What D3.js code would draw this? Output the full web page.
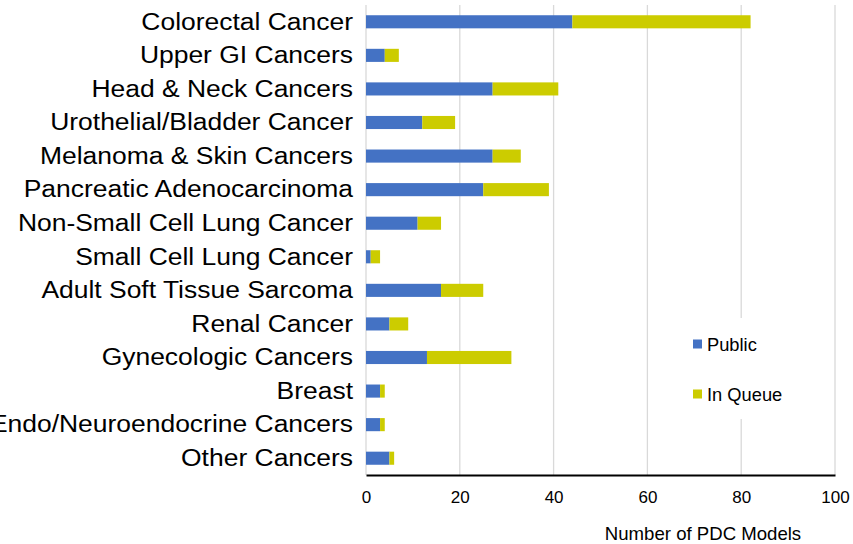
<!DOCTYPE html>
<html>
<head>
<meta charset="utf-8">
<script src="https://cdn.jsdelivr.net/npm/d3@7"></script>
<style>
  html, body { margin: 0; padding: 0; background: #fff; }
  svg { display: block; font-family: "Liberation Sans", Arial, sans-serif; }
</style>
</head>
<body>
<svg id="chart" width="853" height="544"></svg>
<script>
// PDC model counts by cancer type
const categories = [
  "Colorectal Cancer",
  "Upper GI Cancers",
  "Head & Neck Cancers",
  "Urothelial/Bladder Cancer",
  "Melanoma & Skin Cancers",
  "Pancreatic Adenocarcinoma",
  "Non-Small Cell Lung Cancer",
  "Small Cell Lung Cancer",
  "Adult Soft Tissue Sarcoma",
  "Renal Cancer",
  "Gynecologic Cancers",
  "Breast",
  "Endo/Neuroendocrine Cancers",
  "Other Cancers"
];
const publicModels = [44, 4, 27, 12, 27, 25, 11, 1, 16, 5, 13, 3, 3, 5];
const inQueueModels = [38, 3, 14, 7, 6, 14, 5, 2, 9, 4, 18, 1, 1, 1];
const seriesNames = ["Public", "In Queue"];
const seriesColors = ["#4472c4", "#cccc00"];
const xTicks = [0, 20, 40, 60, 80, 100];
const axisTitle = "Number of PDC Models";

const svg = d3.select("#chart");
const margin = { left: 366, right: 18, top: 5, bottom: 69 };
const width = 853, height = 544;

const x = d3.scaleLinear().domain([0, 100]).range([margin.left, width - margin.right]);
const y = d3.scaleBand().domain(categories)
  .range([margin.top, height - margin.bottom])
  .paddingInner(0.61).paddingOuter(0.305);

// vertical gridlines
svg.append("g").selectAll("line").data(xTicks).join("line")
  .attr("x1", d => x(d)).attr("x2", d => x(d))
  .attr("y1", margin.top).attr("y2", height - margin.bottom)
  .attr("stroke", "#d9d9d9").attr("stroke-width", 1.3);

// stacked bars
const rows = categories.map((c, i) => ({ cat: c, pub: publicModels[i], queue: inQueueModels[i] }));
const stack = d3.stack().keys(["pub", "queue"]);
const layers = stack(rows);
svg.append("g").selectAll("g").data(layers).join("g")
  .attr("fill", (d, i) => seriesColors[i])
  .selectAll("rect").data(d => d).join("rect")
  .attr("x", d => x(d[0]))
  .attr("width", d => x(d[1]) - x(d[0]))
  .attr("y", d => y(d.data.cat))
  .attr("height", y.bandwidth());

// category axis (labels slightly widened)
const labelStretch = 1.08;
const labelPad = 13;
const yAxis = svg.append("g")
  .attr("transform", `translate(${margin.left},0)`)
  .call(d3.axisLeft(y).tickSize(0).tickPadding(labelPad));
yAxis.select(".domain").remove();
yAxis.selectAll("text")
  .attr("font-size", 24.5).attr("fill", "#000")
  .attr("font-family", "'Liberation Sans', Arial, sans-serif")
  .attr("x", -labelPad / labelStretch)
  .attr("transform", `scale(${labelStretch},1)`);

// value axis
const xAxis = svg.append("g")
  .attr("transform", `translate(0,${height - margin.bottom})`)
  .call(d3.axisBottom(x).tickValues(xTicks).tickSize(0).tickPadding(16));
xAxis.select(".domain").attr("stroke", "#000").attr("stroke-width", 2);
xAxis.selectAll("text").attr("font-size", 17).attr("fill", "#000")
  .attr("font-family", "'Liberation Sans', Arial, sans-serif");

svg.append("text")
  .attr("x", 703).attr("y", 540)
  .attr("text-anchor", "middle")
  .attr("font-size", 18.6)
  .attr("fill", "#000")
  .text(axisTitle);

// legend
const legend = svg.append("g");
legend.append("rect").attr("x", 684).attr("y", 318).attr("width", 115).attr("height", 101).attr("fill", "#fff");
seriesNames.forEach((name, i) => {
  const ly = 344 + i * 50;
  legend.append("rect").attr("x", 693).attr("y", ly - 4.5).attr("width", 9).attr("height", 9).attr("fill", seriesColors[i]);
  legend.append("text").attr("x", 707).attr("y", ly + 6.5).attr("font-size", 18.3).attr("fill", "#000").text(name);
});
</script>
</body>
</html>
